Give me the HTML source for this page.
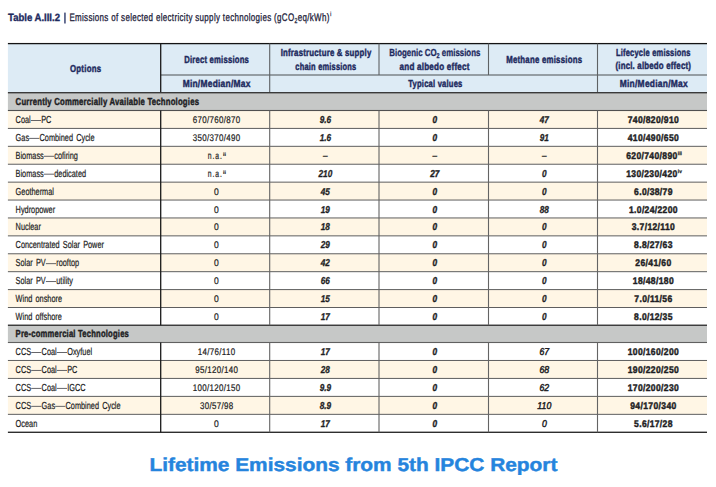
<!DOCTYPE html>
<html><head><meta charset="utf-8"><style>
html,body{margin:0;padding:0;background:#fff;width:716px;height:487px;overflow:hidden}
svg{display:block;font-family:"Liberation Sans",sans-serif;text-rendering:geometricPrecision}
</style></head><body>
<svg width="716" height="487" viewBox="0 0 716 487">
<rect x="7.90" y="43.60" width="699.10" height="49.10" fill="#DDEBF5"/>
<rect x="7.90" y="92.70" width="699.10" height="17.80" fill="#C6C8C7"/>
<rect x="7.90" y="110.50" width="699.10" height="17.91" fill="#FFF6E5"/>
<rect x="7.90" y="128.41" width="699.10" height="17.91" fill="#FFFFFF"/>
<rect x="7.90" y="146.32" width="699.10" height="17.91" fill="#FFF6E5"/>
<rect x="7.90" y="164.23" width="699.10" height="17.91" fill="#FFFFFF"/>
<rect x="7.90" y="182.14" width="699.10" height="17.91" fill="#FFF6E5"/>
<rect x="7.90" y="200.04" width="699.10" height="17.91" fill="#FFFFFF"/>
<rect x="7.90" y="217.95" width="699.10" height="17.91" fill="#FFF6E5"/>
<rect x="7.90" y="235.86" width="699.10" height="17.91" fill="#FFFFFF"/>
<rect x="7.90" y="253.77" width="699.10" height="17.91" fill="#FFF6E5"/>
<rect x="7.90" y="271.68" width="699.10" height="17.91" fill="#FFFFFF"/>
<rect x="7.90" y="289.59" width="699.10" height="17.91" fill="#FFF6E5"/>
<rect x="7.90" y="307.50" width="699.10" height="17.91" fill="#FFFFFF"/>
<rect x="7.90" y="325.25" width="699.10" height="17.25" fill="#C6C8C7"/>
<rect x="7.90" y="342.50" width="699.10" height="17.96" fill="#FFFFFF"/>
<rect x="7.90" y="360.46" width="699.10" height="17.96" fill="#FFF6E5"/>
<rect x="7.90" y="378.42" width="699.10" height="17.96" fill="#FFFFFF"/>
<rect x="7.90" y="396.38" width="699.10" height="17.96" fill="#FFF6E5"/>
<rect x="7.90" y="414.34" width="699.10" height="17.96" fill="#FFFFFF"/>
<rect x="7.90" y="42.95" width="699.10" height="1.30" fill="#141414"/>
<rect x="160.70" y="74.50" width="546.30" height="1.00" fill="#4C5052"/>
<rect x="160.05" y="43.60" width="1.30" height="49.10" fill="#1A1A1A"/>
<rect x="269.15" y="43.60" width="1.10" height="49.10" fill="#5E6264"/>
<rect x="596.95" y="43.60" width="1.10" height="49.10" fill="#5E6264"/>
<rect x="378.45" y="43.60" width="1.10" height="31.40" fill="#5E6264"/>
<rect x="487.95" y="43.60" width="1.10" height="31.40" fill="#5E6264"/>
<rect x="7.90" y="92.00" width="699.10" height="1.40" fill="#3A3A3A"/>
<rect x="7.90" y="109.95" width="699.10" height="1.10" fill="#505050"/>
<rect x="7.90" y="127.91" width="699.10" height="1.00" fill="#5E5E5E"/>
<rect x="7.90" y="145.82" width="699.10" height="1.00" fill="#5E5E5E"/>
<rect x="7.90" y="163.73" width="699.10" height="1.00" fill="#5E5E5E"/>
<rect x="7.90" y="181.64" width="699.10" height="1.00" fill="#5E5E5E"/>
<rect x="7.90" y="199.54" width="699.10" height="1.00" fill="#5E5E5E"/>
<rect x="7.90" y="217.45" width="699.10" height="1.00" fill="#5E5E5E"/>
<rect x="7.90" y="235.36" width="699.10" height="1.00" fill="#5E5E5E"/>
<rect x="7.90" y="253.27" width="699.10" height="1.00" fill="#5E5E5E"/>
<rect x="7.90" y="271.18" width="699.10" height="1.00" fill="#5E5E5E"/>
<rect x="7.90" y="289.09" width="699.10" height="1.00" fill="#5E5E5E"/>
<rect x="7.90" y="307.00" width="699.10" height="1.00" fill="#5E5E5E"/>
<rect x="7.90" y="324.55" width="699.10" height="1.40" fill="#363636"/>
<rect x="7.90" y="341.95" width="699.10" height="1.10" fill="#606060"/>
<rect x="7.90" y="359.96" width="699.10" height="1.00" fill="#5E5E5E"/>
<rect x="7.90" y="377.92" width="699.10" height="1.00" fill="#5E5E5E"/>
<rect x="7.90" y="395.88" width="699.10" height="1.00" fill="#5E5E5E"/>
<rect x="7.90" y="413.84" width="699.10" height="1.00" fill="#5E5E5E"/>
<rect x="7.90" y="431.60" width="699.10" height="1.40" fill="#2E2E2E"/>
<rect x="160.05" y="110.50" width="1.30" height="214.75" fill="#1A1A1A"/>
<rect x="269.15" y="110.50" width="1.10" height="214.75" fill="#646464"/>
<rect x="378.45" y="110.50" width="1.10" height="214.75" fill="#646464"/>
<rect x="487.95" y="110.50" width="1.10" height="214.75" fill="#646464"/>
<rect x="596.95" y="110.50" width="1.10" height="214.75" fill="#646464"/>
<rect x="160.05" y="342.50" width="1.30" height="89.80" fill="#1A1A1A"/>
<rect x="269.15" y="342.50" width="1.10" height="89.80" fill="#646464"/>
<rect x="378.45" y="342.50" width="1.10" height="89.80" fill="#646464"/>
<rect x="487.95" y="342.50" width="1.10" height="89.80" fill="#646464"/>
<rect x="596.95" y="342.50" width="1.10" height="89.80" fill="#646464"/>
<text transform="translate(8.10 20.60) scale(0.907 1)" text-anchor="start" font-size="10.5" font-weight="bold" font-style="normal" fill="#1D2A5E" stroke="#1D2A5E" stroke-width="0.35">Table A.III.2</text>
<rect x="64.30" y="12.60" width="1.30" height="10.90" fill="#1D2A5E"/>
<text transform="translate(69.4 20.6) scale(0.725 1)" font-size="11.0" fill="#22223A" stroke="#22223A" stroke-width="0.3" letter-spacing="0.45">Emissions of selected electricity supply technologies (gCO<tspan font-size="7.15" dy="2.2">2</tspan><tspan dy="-2.2">eq/kWh)</tspan><tspan font-size="6" dy="-4.5" dx="0.8">i</tspan></text>
<text transform="translate(85.63 71.50) scale(0.769 1)" text-anchor="middle" font-size="10.2" font-weight="bold" font-style="normal" fill="#1D2A5E" stroke="#1D2A5E" stroke-width="0.45" letter-spacing="0.338">Options</text>
<text transform="translate(216.61 62.60) scale(0.754 1)" text-anchor="middle" font-size="10.2" font-weight="bold" font-style="normal" fill="#1D2A5E" stroke="#1D2A5E" stroke-width="0.45" letter-spacing="0.286">Direct emissions</text>
<text transform="translate(216.63 87.10) scale(0.823 1)" text-anchor="middle" font-size="10.2" font-weight="bold" font-style="normal" fill="#1D2A5E" stroke="#1D2A5E" stroke-width="0.45" letter-spacing="0.317">Min/Median/Max</text>
<text transform="translate(326.10 55.90) scale(0.768 1)" text-anchor="middle" font-size="10.2" font-weight="bold" font-style="normal" fill="#1D2A5E" stroke="#1D2A5E" stroke-width="0.45" letter-spacing="0.269">Infrastructure &amp; supply</text>
<text transform="translate(325.91 69.60) scale(0.730 1)" text-anchor="middle" font-size="10.2" font-weight="bold" font-style="normal" fill="#1D2A5E" stroke="#1D2A5E" stroke-width="0.45" letter-spacing="0.298">chain emissions</text>
<text transform="translate(389.3 55.9) scale(0.773 1)" font-size="10.2" font-weight="bold" fill="#1D2A5E" stroke="#1D2A5E" stroke-width="0.3">Biogenic CO<tspan font-size="7.1" dy="2.3">2</tspan><tspan dy="-2.3"> emissions</tspan></text>
<text transform="translate(434.61 69.60) scale(0.792 1)" text-anchor="middle" font-size="10.2" font-weight="bold" font-style="normal" fill="#1D2A5E" stroke="#1D2A5E" stroke-width="0.45" letter-spacing="0.276">and albedo effect</text>
<text transform="translate(544.22 63.00) scale(0.766 1)" text-anchor="middle" font-size="10.2" font-weight="bold" font-style="normal" fill="#1D2A5E" stroke="#1D2A5E" stroke-width="0.45" letter-spacing="0.309">Methane emissions</text>
<text transform="translate(653.30 55.90) scale(0.735 1)" text-anchor="middle" font-size="10.2" font-weight="bold" font-style="normal" fill="#1D2A5E" stroke="#1D2A5E" stroke-width="0.45" letter-spacing="0.282">Lifecycle emissions</text>
<text transform="translate(653.29 69.00) scale(0.771 1)" text-anchor="middle" font-size="10.2" font-weight="bold" font-style="normal" fill="#1D2A5E" stroke="#1D2A5E" stroke-width="0.45" letter-spacing="0.245">(incl. albedo effect)</text>
<text transform="translate(653.83 87.00) scale(0.826 1)" text-anchor="middle" font-size="10.2" font-weight="bold" font-style="normal" fill="#1D2A5E" stroke="#1D2A5E" stroke-width="0.45" letter-spacing="0.317">Min/Median/Max</text>
<text transform="translate(435.40 86.80) scale(0.745 1)" text-anchor="middle" font-size="10.2" font-weight="bold" font-style="normal" fill="#1D2A5E" stroke="#1D2A5E" stroke-width="0.45" letter-spacing="0.279">Typical values</text>
<text transform="translate(15.60 105.30) scale(0.759 1)" text-anchor="start" font-size="10.2" font-weight="bold" font-style="normal" fill="#1E1E24" stroke="#1E1E24" stroke-width="0.45" letter-spacing="0.275">Currently Commercially Available Technologies</text>
<text transform="translate(15.60 337.40) scale(0.746 1)" text-anchor="start" font-size="10.2" font-weight="bold" font-style="normal" fill="#1E1E24" stroke="#1E1E24" stroke-width="0.45" letter-spacing="0.292">Pre-commercial Technologies</text>
<text transform="translate(15.60 123.00) scale(0.720 1)" text-anchor="start" font-size="10.2" font-weight="normal" font-style="normal" fill="#1E1E24" stroke="#1E1E24" stroke-width="0.22">Coal</text>
<rect x="30.83" y="120.00" width="10.20" height="0.85" fill="#4A4A50"/>
<text transform="translate(41.23 123.00) scale(0.720 1)" text-anchor="start" font-size="10.2" font-weight="normal" font-style="normal" fill="#1E1E24" stroke="#1E1E24" stroke-width="0.22">PC</text>
<text transform="translate(216.67 123.00) scale(0.828 1)" text-anchor="middle" font-size="9.6" font-weight="normal" font-style="normal" fill="#1E1E24" stroke="#1E1E24" stroke-width="0.22" letter-spacing="0.402">670/760/870</text>
<text transform="translate(325.35 123.00) scale(0.820 1)" text-anchor="middle" font-size="10.0" font-weight="bold" font-style="italic" fill="#1E1E24" stroke="#1E1E24" stroke-width="0.3">9.6</text>
<text transform="translate(434.75 123.00) scale(0.820 1)" text-anchor="middle" font-size="10.0" font-weight="bold" font-style="italic" fill="#1E1E24" stroke="#1E1E24" stroke-width="0.45">0</text>
<text transform="translate(544.20 123.00) scale(0.820 1)" text-anchor="middle" font-size="10.0" font-weight="bold" font-style="italic" fill="#1E1E24" stroke="#1E1E24" stroke-width="0.3">47</text>
<text transform="translate(653.43 123.00) scale(0.891 1)" text-anchor="middle" font-size="9.6" font-weight="bold" font-style="normal" fill="#1E1E24" stroke="#1E1E24" stroke-width="0.45" letter-spacing="0.402">740/820/910</text>
<text transform="translate(15.60 140.91) scale(0.720 1)" text-anchor="start" font-size="10.2" font-weight="normal" font-style="normal" fill="#1E1E24" stroke="#1E1E24" stroke-width="0.22">Gas</text>
<rect x="29.14" y="137.91" width="10.20" height="0.85" fill="#4A4A50"/>
<text transform="translate(39.54 140.91) scale(0.720 1)" text-anchor="start" font-size="10.2" font-weight="normal" font-style="normal" fill="#1E1E24" word-spacing="1.6" stroke="#1E1E24" stroke-width="0.22">Combined Cycle</text>
<text transform="translate(216.67 140.91) scale(0.828 1)" text-anchor="middle" font-size="9.6" font-weight="normal" font-style="normal" fill="#1E1E24" stroke="#1E1E24" stroke-width="0.22" letter-spacing="0.402">350/370/490</text>
<text transform="translate(325.35 140.91) scale(0.820 1)" text-anchor="middle" font-size="10.0" font-weight="bold" font-style="italic" fill="#1E1E24" stroke="#1E1E24" stroke-width="0.3">1.6</text>
<text transform="translate(434.75 140.91) scale(0.820 1)" text-anchor="middle" font-size="10.0" font-weight="bold" font-style="italic" fill="#1E1E24" stroke="#1E1E24" stroke-width="0.45">0</text>
<text transform="translate(544.20 140.91) scale(0.820 1)" text-anchor="middle" font-size="10.0" font-weight="bold" font-style="italic" fill="#1E1E24" stroke="#1E1E24" stroke-width="0.3">91</text>
<text transform="translate(653.43 140.91) scale(0.891 1)" text-anchor="middle" font-size="9.6" font-weight="bold" font-style="normal" fill="#1E1E24" stroke="#1E1E24" stroke-width="0.45" letter-spacing="0.402">410/490/650</text>
<text transform="translate(15.60 158.82) scale(0.720 1)" text-anchor="start" font-size="10.2" font-weight="normal" font-style="normal" fill="#1E1E24" stroke="#1E1E24" stroke-width="0.22">Biomass</text>
<rect x="43.83" y="155.82" width="10.20" height="0.85" fill="#4A4A50"/>
<text transform="translate(54.23 158.82) scale(0.720 1)" text-anchor="start" font-size="10.2" font-weight="normal" font-style="normal" fill="#1E1E24" stroke="#1E1E24" stroke-width="0.22">cofiring</text>
<text transform="translate(207.80 158.82) scale(0.680 1)" text-anchor="start" font-size="10" font-weight="normal" font-style="normal" fill="#1E1E24" stroke="#1E1E24" stroke-width="0.22" letter-spacing="1.392">n.a.</text>
<text x="223.0" y="155.62" font-size="5.2" font-weight="bold" fill="#1E1E24" stroke="#1E1E24" stroke-width="0.2">ii</text>
<text transform="translate(325.35 158.82) scale(1.000 1)" text-anchor="middle" font-size="10.0" font-weight="bold" font-style="italic" fill="#1E1E24">–</text>
<text transform="translate(434.75 158.82) scale(1.000 1)" text-anchor="middle" font-size="10.0" font-weight="bold" font-style="italic" fill="#1E1E24">–</text>
<text transform="translate(544.20 158.82) scale(1.000 1)" text-anchor="middle" font-size="10.0" font-weight="bold" font-style="italic" fill="#1E1E24">–</text>
<text transform="translate(651.93 158.82) scale(0.891 1)" text-anchor="middle" font-size="9.6" font-weight="bold" font-style="normal" fill="#1E1E24" stroke="#1E1E24" stroke-width="0.45" letter-spacing="0.402">620/740/890</text>
<text x="677.83" y="155.32" font-size="4.8" font-weight="bold" fill="#1E1E24" stroke="#1E1E24" stroke-width="0.25">iii</text>
<text transform="translate(15.60 176.73) scale(0.720 1)" text-anchor="start" font-size="10.2" font-weight="normal" font-style="normal" fill="#1E1E24" stroke="#1E1E24" stroke-width="0.22">Biomass</text>
<rect x="43.83" y="173.73" width="10.20" height="0.85" fill="#4A4A50"/>
<text transform="translate(54.23 176.73) scale(0.720 1)" text-anchor="start" font-size="10.2" font-weight="normal" font-style="normal" fill="#1E1E24" stroke="#1E1E24" stroke-width="0.22">dedicated</text>
<text transform="translate(207.80 176.73) scale(0.680 1)" text-anchor="start" font-size="10" font-weight="normal" font-style="normal" fill="#1E1E24" stroke="#1E1E24" stroke-width="0.22" letter-spacing="1.392">n.a.</text>
<text x="223.0" y="173.53" font-size="5.2" font-weight="bold" fill="#1E1E24" stroke="#1E1E24" stroke-width="0.2">ii</text>
<text transform="translate(325.35 176.73) scale(0.820 1)" text-anchor="middle" font-size="10.0" font-weight="bold" font-style="italic" fill="#1E1E24" stroke="#1E1E24" stroke-width="0.3">210</text>
<text transform="translate(434.75 176.73) scale(0.820 1)" text-anchor="middle" font-size="10.0" font-weight="bold" font-style="italic" fill="#1E1E24" stroke="#1E1E24" stroke-width="0.45">27</text>
<text transform="translate(544.20 176.73) scale(0.820 1)" text-anchor="middle" font-size="10.0" font-weight="bold" font-style="italic" fill="#1E1E24" stroke="#1E1E24" stroke-width="0.3">0</text>
<text transform="translate(651.93 176.73) scale(0.891 1)" text-anchor="middle" font-size="9.6" font-weight="bold" font-style="normal" fill="#1E1E24" stroke="#1E1E24" stroke-width="0.45" letter-spacing="0.402">130/230/420</text>
<text x="677.83" y="173.23" font-size="4.8" font-weight="bold" fill="#1E1E24" stroke="#1E1E24" stroke-width="0.25">iv</text>
<text transform="translate(15.60 194.64) scale(0.720 1)" text-anchor="start" font-size="10.2" font-weight="normal" font-style="normal" fill="#1E1E24" stroke="#1E1E24" stroke-width="0.22">Geothermal</text>
<text transform="translate(216.50 194.64) scale(0.891 1)" text-anchor="middle" font-size="9.6" font-weight="normal" font-style="normal" fill="#1E1E24" stroke="#1E1E24" stroke-width="0.22">0</text>
<text transform="translate(325.35 194.64) scale(0.820 1)" text-anchor="middle" font-size="10.0" font-weight="bold" font-style="italic" fill="#1E1E24" stroke="#1E1E24" stroke-width="0.3">45</text>
<text transform="translate(434.75 194.64) scale(0.820 1)" text-anchor="middle" font-size="10.0" font-weight="bold" font-style="italic" fill="#1E1E24" stroke="#1E1E24" stroke-width="0.45">0</text>
<text transform="translate(544.20 194.64) scale(0.820 1)" text-anchor="middle" font-size="10.0" font-weight="bold" font-style="italic" fill="#1E1E24" stroke="#1E1E24" stroke-width="0.3">0</text>
<text transform="translate(653.42 194.64) scale(0.891 1)" text-anchor="middle" font-size="9.6" font-weight="bold" font-style="normal" fill="#1E1E24" stroke="#1E1E24" stroke-width="0.45" letter-spacing="0.377">6.0/38/79</text>
<text transform="translate(15.60 212.54) scale(0.720 1)" text-anchor="start" font-size="10.2" font-weight="normal" font-style="normal" fill="#1E1E24" stroke="#1E1E24" stroke-width="0.22">Hydropower</text>
<text transform="translate(216.50 212.54) scale(0.891 1)" text-anchor="middle" font-size="9.6" font-weight="normal" font-style="normal" fill="#1E1E24" stroke="#1E1E24" stroke-width="0.22">0</text>
<text transform="translate(325.35 212.54) scale(0.820 1)" text-anchor="middle" font-size="10.0" font-weight="bold" font-style="italic" fill="#1E1E24" stroke="#1E1E24" stroke-width="0.3">19</text>
<text transform="translate(434.75 212.54) scale(0.820 1)" text-anchor="middle" font-size="10.0" font-weight="bold" font-style="italic" fill="#1E1E24" stroke="#1E1E24" stroke-width="0.45">0</text>
<text transform="translate(544.20 212.54) scale(0.820 1)" text-anchor="middle" font-size="10.0" font-weight="bold" font-style="italic" fill="#1E1E24" stroke="#1E1E24" stroke-width="0.3">88</text>
<text transform="translate(653.42 212.54) scale(0.891 1)" text-anchor="middle" font-size="9.6" font-weight="bold" font-style="normal" fill="#1E1E24" stroke="#1E1E24" stroke-width="0.45" letter-spacing="0.382">1.0/24/2200</text>
<text transform="translate(15.60 230.45) scale(0.720 1)" text-anchor="start" font-size="10.2" font-weight="normal" font-style="normal" fill="#1E1E24" stroke="#1E1E24" stroke-width="0.22">Nuclear</text>
<text transform="translate(216.50 230.45) scale(0.891 1)" text-anchor="middle" font-size="9.6" font-weight="normal" font-style="normal" fill="#1E1E24" stroke="#1E1E24" stroke-width="0.22">0</text>
<text transform="translate(325.35 230.45) scale(0.820 1)" text-anchor="middle" font-size="10.0" font-weight="bold" font-style="italic" fill="#1E1E24" stroke="#1E1E24" stroke-width="0.3">18</text>
<text transform="translate(434.75 230.45) scale(0.820 1)" text-anchor="middle" font-size="10.0" font-weight="bold" font-style="italic" fill="#1E1E24" stroke="#1E1E24" stroke-width="0.45">0</text>
<text transform="translate(544.20 230.45) scale(0.820 1)" text-anchor="middle" font-size="10.0" font-weight="bold" font-style="italic" fill="#1E1E24" stroke="#1E1E24" stroke-width="0.3">0</text>
<text transform="translate(653.42 230.45) scale(0.891 1)" text-anchor="middle" font-size="9.6" font-weight="bold" font-style="normal" fill="#1E1E24" stroke="#1E1E24" stroke-width="0.45" letter-spacing="0.375">3.7/12/110</text>
<text transform="translate(15.60 248.36) scale(0.720 1)" text-anchor="start" font-size="10.2" font-weight="normal" font-style="normal" fill="#1E1E24" word-spacing="1.6" stroke="#1E1E24" stroke-width="0.22">Concentrated Solar Power</text>
<text transform="translate(216.50 248.36) scale(0.891 1)" text-anchor="middle" font-size="9.6" font-weight="normal" font-style="normal" fill="#1E1E24" stroke="#1E1E24" stroke-width="0.22">0</text>
<text transform="translate(325.35 248.36) scale(0.820 1)" text-anchor="middle" font-size="10.0" font-weight="bold" font-style="italic" fill="#1E1E24" stroke="#1E1E24" stroke-width="0.3">29</text>
<text transform="translate(434.75 248.36) scale(0.820 1)" text-anchor="middle" font-size="10.0" font-weight="bold" font-style="italic" fill="#1E1E24" stroke="#1E1E24" stroke-width="0.45">0</text>
<text transform="translate(544.20 248.36) scale(0.820 1)" text-anchor="middle" font-size="10.0" font-weight="bold" font-style="italic" fill="#1E1E24" stroke="#1E1E24" stroke-width="0.3">0</text>
<text transform="translate(653.42 248.36) scale(0.891 1)" text-anchor="middle" font-size="9.6" font-weight="bold" font-style="normal" fill="#1E1E24" stroke="#1E1E24" stroke-width="0.45" letter-spacing="0.377">8.8/27/63</text>
<text transform="translate(15.60 266.27) scale(0.720 1)" text-anchor="start" font-size="10.2" font-weight="normal" font-style="normal" fill="#1E1E24" word-spacing="1.6" stroke="#1E1E24" stroke-width="0.22">Solar PV</text>
<rect x="45.86" y="263.27" width="10.20" height="0.85" fill="#4A4A50"/>
<text transform="translate(56.26 266.27) scale(0.720 1)" text-anchor="start" font-size="10.2" font-weight="normal" font-style="normal" fill="#1E1E24" stroke="#1E1E24" stroke-width="0.22">rooftop</text>
<text transform="translate(216.50 266.27) scale(0.891 1)" text-anchor="middle" font-size="9.6" font-weight="normal" font-style="normal" fill="#1E1E24" stroke="#1E1E24" stroke-width="0.22">0</text>
<text transform="translate(325.35 266.27) scale(0.820 1)" text-anchor="middle" font-size="10.0" font-weight="bold" font-style="italic" fill="#1E1E24" stroke="#1E1E24" stroke-width="0.3">42</text>
<text transform="translate(434.75 266.27) scale(0.820 1)" text-anchor="middle" font-size="10.0" font-weight="bold" font-style="italic" fill="#1E1E24" stroke="#1E1E24" stroke-width="0.45">0</text>
<text transform="translate(544.20 266.27) scale(0.820 1)" text-anchor="middle" font-size="10.0" font-weight="bold" font-style="italic" fill="#1E1E24" stroke="#1E1E24" stroke-width="0.3">0</text>
<text transform="translate(653.43 266.27) scale(0.891 1)" text-anchor="middle" font-size="9.6" font-weight="bold" font-style="normal" fill="#1E1E24" stroke="#1E1E24" stroke-width="0.45" letter-spacing="0.402">26/41/60</text>
<text transform="translate(15.60 284.18) scale(0.720 1)" text-anchor="start" font-size="10.2" font-weight="normal" font-style="normal" fill="#1E1E24" word-spacing="1.6" stroke="#1E1E24" stroke-width="0.22">Solar PV</text>
<rect x="45.86" y="281.18" width="10.20" height="0.85" fill="#4A4A50"/>
<text transform="translate(56.26 284.18) scale(0.720 1)" text-anchor="start" font-size="10.2" font-weight="normal" font-style="normal" fill="#1E1E24" stroke="#1E1E24" stroke-width="0.22">utility</text>
<text transform="translate(216.50 284.18) scale(0.891 1)" text-anchor="middle" font-size="9.6" font-weight="normal" font-style="normal" fill="#1E1E24" stroke="#1E1E24" stroke-width="0.22">0</text>
<text transform="translate(325.35 284.18) scale(0.820 1)" text-anchor="middle" font-size="10.0" font-weight="bold" font-style="italic" fill="#1E1E24" stroke="#1E1E24" stroke-width="0.3">66</text>
<text transform="translate(434.75 284.18) scale(0.820 1)" text-anchor="middle" font-size="10.0" font-weight="bold" font-style="italic" fill="#1E1E24" stroke="#1E1E24" stroke-width="0.45">0</text>
<text transform="translate(544.20 284.18) scale(0.820 1)" text-anchor="middle" font-size="10.0" font-weight="bold" font-style="italic" fill="#1E1E24" stroke="#1E1E24" stroke-width="0.3">0</text>
<text transform="translate(653.43 284.18) scale(0.891 1)" text-anchor="middle" font-size="9.6" font-weight="bold" font-style="normal" fill="#1E1E24" stroke="#1E1E24" stroke-width="0.45" letter-spacing="0.402">18/48/180</text>
<text transform="translate(15.60 302.09) scale(0.720 1)" text-anchor="start" font-size="10.2" font-weight="normal" font-style="normal" fill="#1E1E24" word-spacing="1.6" stroke="#1E1E24" stroke-width="0.22">Wind onshore</text>
<text transform="translate(216.50 302.09) scale(0.891 1)" text-anchor="middle" font-size="9.6" font-weight="normal" font-style="normal" fill="#1E1E24" stroke="#1E1E24" stroke-width="0.22">0</text>
<text transform="translate(325.35 302.09) scale(0.820 1)" text-anchor="middle" font-size="10.0" font-weight="bold" font-style="italic" fill="#1E1E24" stroke="#1E1E24" stroke-width="0.3">15</text>
<text transform="translate(434.75 302.09) scale(0.820 1)" text-anchor="middle" font-size="10.0" font-weight="bold" font-style="italic" fill="#1E1E24" stroke="#1E1E24" stroke-width="0.45">0</text>
<text transform="translate(544.20 302.09) scale(0.820 1)" text-anchor="middle" font-size="10.0" font-weight="bold" font-style="italic" fill="#1E1E24" stroke="#1E1E24" stroke-width="0.3">0</text>
<text transform="translate(653.42 302.09) scale(0.891 1)" text-anchor="middle" font-size="9.6" font-weight="bold" font-style="normal" fill="#1E1E24" stroke="#1E1E24" stroke-width="0.45" letter-spacing="0.371">7.0/11/56</text>
<text transform="translate(15.60 320.00) scale(0.720 1)" text-anchor="start" font-size="10.2" font-weight="normal" font-style="normal" fill="#1E1E24" word-spacing="1.6" stroke="#1E1E24" stroke-width="0.22">Wind offshore</text>
<text transform="translate(216.50 320.00) scale(0.891 1)" text-anchor="middle" font-size="9.6" font-weight="normal" font-style="normal" fill="#1E1E24" stroke="#1E1E24" stroke-width="0.22">0</text>
<text transform="translate(325.35 320.00) scale(0.820 1)" text-anchor="middle" font-size="10.0" font-weight="bold" font-style="italic" fill="#1E1E24" stroke="#1E1E24" stroke-width="0.3">17</text>
<text transform="translate(434.75 320.00) scale(0.820 1)" text-anchor="middle" font-size="10.0" font-weight="bold" font-style="italic" fill="#1E1E24" stroke="#1E1E24" stroke-width="0.45">0</text>
<text transform="translate(544.20 320.00) scale(0.820 1)" text-anchor="middle" font-size="10.0" font-weight="bold" font-style="italic" fill="#1E1E24" stroke="#1E1E24" stroke-width="0.3">0</text>
<text transform="translate(653.42 320.00) scale(0.891 1)" text-anchor="middle" font-size="9.6" font-weight="bold" font-style="normal" fill="#1E1E24" stroke="#1E1E24" stroke-width="0.45" letter-spacing="0.377">8.0/12/35</text>
<text transform="translate(15.60 355.00) scale(0.720 1)" text-anchor="start" font-size="10.2" font-weight="normal" font-style="normal" fill="#1E1E24" stroke="#1E1E24" stroke-width="0.22">CCS</text>
<rect x="31.20" y="352.00" width="10.20" height="0.85" fill="#4A4A50"/>
<text transform="translate(41.60 355.00) scale(0.720 1)" text-anchor="start" font-size="10.2" font-weight="normal" font-style="normal" fill="#1E1E24" stroke="#1E1E24" stroke-width="0.22">Coal</text>
<rect x="56.82" y="352.00" width="10.20" height="0.85" fill="#4A4A50"/>
<text transform="translate(67.22 355.00) scale(0.720 1)" text-anchor="start" font-size="10.2" font-weight="normal" font-style="normal" fill="#1E1E24" stroke="#1E1E24" stroke-width="0.22">Oxyfuel</text>
<text transform="translate(216.66 355.00) scale(0.828 1)" text-anchor="middle" font-size="9.6" font-weight="normal" font-style="normal" fill="#1E1E24" stroke="#1E1E24" stroke-width="0.22" letter-spacing="0.395">14/76/110</text>
<text transform="translate(325.35 355.00) scale(0.820 1)" text-anchor="middle" font-size="10.0" font-weight="bold" font-style="italic" fill="#1E1E24" stroke="#1E1E24" stroke-width="0.3">17</text>
<text transform="translate(434.75 355.00) scale(0.820 1)" text-anchor="middle" font-size="10.0" font-weight="bold" font-style="italic" fill="#1E1E24" stroke="#1E1E24" stroke-width="0.45">0</text>
<text transform="translate(544.30 355.00) scale(0.870 1)" text-anchor="middle" font-size="10.0" font-weight="normal" font-style="italic" fill="#1E1E24" stroke="#1E1E24" stroke-width="0.5">67</text>
<text transform="translate(653.43 355.00) scale(0.891 1)" text-anchor="middle" font-size="9.6" font-weight="bold" font-style="normal" fill="#1E1E24" stroke="#1E1E24" stroke-width="0.45" letter-spacing="0.402">100/160/200</text>
<text transform="translate(15.60 372.96) scale(0.720 1)" text-anchor="start" font-size="10.2" font-weight="normal" font-style="normal" fill="#1E1E24" stroke="#1E1E24" stroke-width="0.22">CCS</text>
<rect x="31.20" y="369.96" width="10.20" height="0.85" fill="#4A4A50"/>
<text transform="translate(41.60 372.96) scale(0.720 1)" text-anchor="start" font-size="10.2" font-weight="normal" font-style="normal" fill="#1E1E24" stroke="#1E1E24" stroke-width="0.22">Coal</text>
<rect x="56.82" y="369.96" width="10.20" height="0.85" fill="#4A4A50"/>
<text transform="translate(67.22 372.96) scale(0.720 1)" text-anchor="start" font-size="10.2" font-weight="normal" font-style="normal" fill="#1E1E24" stroke="#1E1E24" stroke-width="0.22">PC</text>
<text transform="translate(216.67 372.96) scale(0.828 1)" text-anchor="middle" font-size="9.6" font-weight="normal" font-style="normal" fill="#1E1E24" stroke="#1E1E24" stroke-width="0.22" letter-spacing="0.401">95/120/140</text>
<text transform="translate(325.35 372.96) scale(0.820 1)" text-anchor="middle" font-size="10.0" font-weight="bold" font-style="italic" fill="#1E1E24" stroke="#1E1E24" stroke-width="0.3">28</text>
<text transform="translate(434.75 372.96) scale(0.820 1)" text-anchor="middle" font-size="10.0" font-weight="bold" font-style="italic" fill="#1E1E24" stroke="#1E1E24" stroke-width="0.45">0</text>
<text transform="translate(544.30 372.96) scale(0.870 1)" text-anchor="middle" font-size="10.0" font-weight="normal" font-style="italic" fill="#1E1E24" stroke="#1E1E24" stroke-width="0.5">68</text>
<text transform="translate(653.43 372.96) scale(0.891 1)" text-anchor="middle" font-size="9.6" font-weight="bold" font-style="normal" fill="#1E1E24" stroke="#1E1E24" stroke-width="0.45" letter-spacing="0.402">190/220/250</text>
<text transform="translate(15.60 390.92) scale(0.720 1)" text-anchor="start" font-size="10.2" font-weight="normal" font-style="normal" fill="#1E1E24" stroke="#1E1E24" stroke-width="0.22">CCS</text>
<rect x="31.20" y="387.92" width="10.20" height="0.85" fill="#4A4A50"/>
<text transform="translate(41.60 390.92) scale(0.720 1)" text-anchor="start" font-size="10.2" font-weight="normal" font-style="normal" fill="#1E1E24" stroke="#1E1E24" stroke-width="0.22">Coal</text>
<rect x="56.82" y="387.92" width="10.20" height="0.85" fill="#4A4A50"/>
<text transform="translate(67.22 390.92) scale(0.720 1)" text-anchor="start" font-size="10.2" font-weight="normal" font-style="normal" fill="#1E1E24" stroke="#1E1E24" stroke-width="0.22">IGCC</text>
<text transform="translate(216.67 390.92) scale(0.828 1)" text-anchor="middle" font-size="9.6" font-weight="normal" font-style="normal" fill="#1E1E24" stroke="#1E1E24" stroke-width="0.22" letter-spacing="0.402">100/120/150</text>
<text transform="translate(325.35 390.92) scale(0.820 1)" text-anchor="middle" font-size="10.0" font-weight="bold" font-style="italic" fill="#1E1E24" stroke="#1E1E24" stroke-width="0.3">9.9</text>
<text transform="translate(434.75 390.92) scale(0.820 1)" text-anchor="middle" font-size="10.0" font-weight="bold" font-style="italic" fill="#1E1E24" stroke="#1E1E24" stroke-width="0.45">0</text>
<text transform="translate(544.30 390.92) scale(0.870 1)" text-anchor="middle" font-size="10.0" font-weight="normal" font-style="italic" fill="#1E1E24" stroke="#1E1E24" stroke-width="0.5">62</text>
<text transform="translate(653.43 390.92) scale(0.891 1)" text-anchor="middle" font-size="9.6" font-weight="bold" font-style="normal" fill="#1E1E24" stroke="#1E1E24" stroke-width="0.45" letter-spacing="0.402">170/200/230</text>
<text transform="translate(15.60 408.88) scale(0.720 1)" text-anchor="start" font-size="10.2" font-weight="normal" font-style="normal" fill="#1E1E24" stroke="#1E1E24" stroke-width="0.22">CCS</text>
<rect x="31.20" y="405.88" width="10.20" height="0.85" fill="#4A4A50"/>
<text transform="translate(41.60 408.88) scale(0.720 1)" text-anchor="start" font-size="10.2" font-weight="normal" font-style="normal" fill="#1E1E24" stroke="#1E1E24" stroke-width="0.22">Gas</text>
<rect x="55.14" y="405.88" width="10.20" height="0.85" fill="#4A4A50"/>
<text transform="translate(65.54 408.88) scale(0.720 1)" text-anchor="start" font-size="10.2" font-weight="normal" font-style="normal" fill="#1E1E24" word-spacing="1.6" stroke="#1E1E24" stroke-width="0.22">Combined Cycle</text>
<text transform="translate(216.67 408.88) scale(0.828 1)" text-anchor="middle" font-size="9.6" font-weight="normal" font-style="normal" fill="#1E1E24" stroke="#1E1E24" stroke-width="0.22" letter-spacing="0.402">30/57/98</text>
<text transform="translate(325.35 408.88) scale(0.820 1)" text-anchor="middle" font-size="10.0" font-weight="bold" font-style="italic" fill="#1E1E24" stroke="#1E1E24" stroke-width="0.3">8.9</text>
<text transform="translate(434.75 408.88) scale(0.820 1)" text-anchor="middle" font-size="10.0" font-weight="bold" font-style="italic" fill="#1E1E24" stroke="#1E1E24" stroke-width="0.45">0</text>
<text transform="translate(544.30 408.88) scale(0.870 1)" text-anchor="middle" font-size="10.0" font-weight="normal" font-style="italic" fill="#1E1E24" stroke="#1E1E24" stroke-width="0.5">110</text>
<text transform="translate(653.43 408.88) scale(0.891 1)" text-anchor="middle" font-size="9.6" font-weight="bold" font-style="normal" fill="#1E1E24" stroke="#1E1E24" stroke-width="0.45" letter-spacing="0.401">94/170/340</text>
<text transform="translate(15.60 426.84) scale(0.720 1)" text-anchor="start" font-size="10.2" font-weight="normal" font-style="normal" fill="#1E1E24" stroke="#1E1E24" stroke-width="0.22">Ocean</text>
<text transform="translate(216.50 426.84) scale(0.891 1)" text-anchor="middle" font-size="9.6" font-weight="normal" font-style="normal" fill="#1E1E24" stroke="#1E1E24" stroke-width="0.22">0</text>
<text transform="translate(325.35 426.84) scale(0.820 1)" text-anchor="middle" font-size="10.0" font-weight="bold" font-style="italic" fill="#1E1E24" stroke="#1E1E24" stroke-width="0.3">17</text>
<text transform="translate(434.75 426.84) scale(0.820 1)" text-anchor="middle" font-size="10.0" font-weight="bold" font-style="italic" fill="#1E1E24" stroke="#1E1E24" stroke-width="0.45">0</text>
<text transform="translate(544.30 426.84) scale(0.870 1)" text-anchor="middle" font-size="10.0" font-weight="normal" font-style="italic" fill="#1E1E24" stroke="#1E1E24" stroke-width="0.5">0</text>
<text transform="translate(653.42 426.84) scale(0.891 1)" text-anchor="middle" font-size="9.6" font-weight="bold" font-style="normal" fill="#1E1E24" stroke="#1E1E24" stroke-width="0.45" letter-spacing="0.377">5.6/17/28</text>
<text transform="translate(149.4 470.6) scale(1.0 1)" font-size="18.7" font-weight="bold" fill="#2584DD" stroke="#2584DD" stroke-width="0.45" textLength="408" lengthAdjust="spacingAndGlyphs">Lifetime Emissions from 5th IPCC Report</text>
</svg>
</body></html>
